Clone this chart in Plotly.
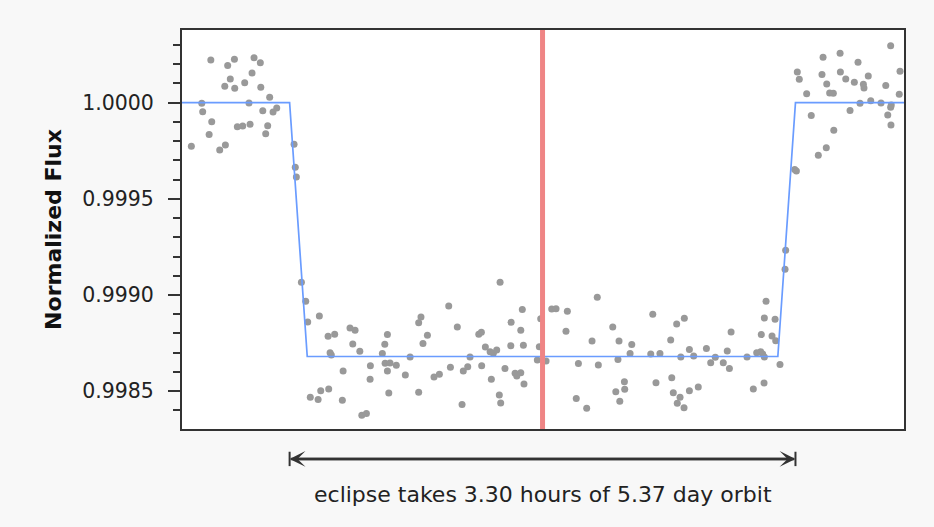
import plotly.graph_objects as go

# Phase-folded light curve around mid-eclipse (time in hours from mid-eclipse)
time_h = [
    -2.164, -2.054, -2.010, -1.882, -1.841, -1.895, -2.037, -2.073, -2.008, -1.943,
    -1.838, -1.780, -2.223, -1.915, -2.217, -1.825, -1.758, -1.734, -2.158, -1.991,
    -1.956, -1.908, -1.793, -1.806, -2.175, -2.291, -2.069, -2.106, -1.621, -1.613,
    -1.606, -1.573, -1.545, -1.532, -1.456, -1.399, -1.356, -1.386, -1.378, -1.256,
    -1.223, -1.238, -1.192, -1.301, -1.515, -1.464, -1.447, -1.395, -1.306, -1.179,
    -1.149, -1.123, -1.125, -1.045, -1.029, -1.012, -1.027, -0.995, -0.954, -1.012,
    -1.003, -0.895, -0.864, -0.808, -0.793, -0.751, -0.780, -0.808, -0.708, -0.673,
    -0.612, -0.556, -0.601, -0.473, -0.517, -0.488, -0.525, -0.416, -0.399, -0.373,
    -0.397, -0.342, -0.321, -0.299, -0.334, -0.277, -0.205, -0.132, -0.142, -0.207,
    -0.125, -0.245, -0.179, -0.168, -0.142, -0.121, -0.282, -0.273, -0.012, -0.021,
    -0.034, 0.023, 0.060, 0.088, 0.162, 0.153, 0.234, 0.220, 0.288, 0.357,
    0.323, 0.364, 0.458, 0.499, 0.492, 0.582, 0.571, 0.534, 0.478, 0.536,
    0.504, 0.719, 0.706, 0.766, 0.740, 0.836, 0.875, 0.925, 0.902, 0.958,
    0.986, 0.843, 0.853, 0.897, 0.879, 0.923, 0.958, 1.016, 1.069, 1.127,
    1.097, 1.179, 1.219, 1.205, 1.230, 1.334, 1.375, 1.445, 1.397, 1.423,
    1.436, 1.447, 1.427, 1.447, 1.458, 1.517, 1.497, 1.521, 1.549, 1.582,
    1.586, 2.271, 1.830, 1.941, 2.058, 1.662, 1.675, 1.823, 1.943, 1.978,
    1.854, 2.034, 2.093, 2.097, 2.125, 2.239, 2.332, 1.723, 1.873, 1.897,
    2.327, 2.071, 2.141, 2.208, 2.275, 2.271, 2.006, 1.753, 2.252, 2.273,
    1.900, 1.851, 1.799, 1.645, 1.656,
]

flux = [
    1.000222, 1.000194, 1.000226, 1.000234, 1.000208, 1.000154, 1.000123, 1.000085, 1.000075, 1.000104,
    1.000080, 1.000028, 0.999997, 0.999998, 0.999953, 0.999958, 0.999952, 0.999972, 0.999901, 0.999875,
    0.999879, 0.999888, 0.999880, 0.999839, 0.999834, 0.999773, 0.999780, 0.999754, 0.999784, 0.999664,
    0.999614, 0.999066, 0.998967, 0.998860, 0.998891, 0.998785, 0.998796, 0.998700, 0.998688, 0.998828,
    0.998816, 0.998745, 0.998707, 0.998605, 0.998468, 0.998456, 0.998502, 0.998511, 0.998452, 0.998374,
    0.998383, 0.998632, 0.998562, 0.998695, 0.998744, 0.998794, 0.998645, 0.998646, 0.998634, 0.998605,
    0.998490, 0.998584, 0.998678, 0.998856, 0.998886, 0.998790, 0.998747, 0.998494, 0.998574, 0.998588,
    0.998943, 0.998834, 0.998624, 0.998678, 0.998605, 0.998627, 0.998430, 0.998796, 0.998806, 0.998730,
    0.998632, 0.998705, 0.998697, 0.998714, 0.998562, 0.999066, 0.998858, 0.998924, 0.998816, 0.998736,
    0.998738, 0.998617, 0.998593, 0.998579, 0.998596, 0.998537, 0.998480, 0.998438, 0.998877, 0.998731,
    0.998662, 0.998657, 0.998927, 0.998929, 0.998915, 0.998811, 0.998643, 0.998461, 0.998411, 0.998988,
    0.998761, 0.998636, 0.998834, 0.998761, 0.998664, 0.998742, 0.998695, 0.998549, 0.998497, 0.998510,
    0.998447, 0.998900, 0.998693, 0.998695, 0.998544, 0.998766, 0.998849, 0.998879, 0.998678, 0.998716,
    0.998683, 0.998570, 0.998492, 0.998468, 0.998437, 0.998414, 0.998502, 0.998522, 0.998721, 0.998676,
    0.998648, 0.998648, 0.998617, 0.998709, 0.998808, 0.998678, 0.998511, 0.998542, 0.998700, 0.998705,
    0.998693, 0.998678, 0.998794, 0.998880, 0.998967, 0.998874, 0.998787, 0.998762, 0.998638, 0.999134,
    0.999232, 1.000296, 1.000236, 1.000257, 1.000210, 1.000160, 1.000122, 1.000146, 1.000160, 1.000123,
    1.000097, 1.000106, 1.000096, 1.000076, 1.000139, 1.000090, 1.000163, 1.000047, 1.000050, 1.000049,
    1.000044, 0.999997, 1.000010, 0.999998, 0.999988, 0.999976, 0.999960, 0.999934, 0.999936, 0.999884,
    0.999856, 0.999766, 0.999726, 0.999652, 0.999645,
]

# Trapezoidal eclipse model
model_t = [-2.352, -1.650, -1.535, 1.535, 1.650, 2.358]
model_flux = [1.0, 1.0, 0.99868, 0.99868, 1.0, 1.0]

eclipse_hours = 3.30
orbit_days = 5.37
mid_eclipse = 0.0
half_dur = eclipse_hours / 2

x_range = [-2.352, 2.358]
y_range = [0.998303, 1.000378]

FONT = "DejaVu Sans, Verdana, sans-serif"
AXIS_COLOR = "#333333"
TEXT_COLOR = "#222222"

fig = go.Figure()
fig.add_trace(go.Scatter(
    x=time_h, y=flux, mode="markers",
    marker=dict(size=7, color="#999999"),
    hoverinfo="skip", showlegend=False,
))
fig.add_trace(go.Scatter(
    x=model_t, y=model_flux, mode="lines",
    line=dict(color="#6a9cff", width=1.7),
    hoverinfo="skip", showlegend=False,
))

# Mid-eclipse marker
fig.add_shape(type="line", xref="x", yref="paper",
              x0=mid_eclipse, x1=mid_eclipse, y0=0, y1=1,
              line=dict(color="#ef8585", width=5), layer="above")

# Duration arrow below the plot: each arrow spans the full eclipse,
# one pointing to each end, with a bar at both contacts
arrow_y = -0.075
start, end = mid_eclipse - half_dur, mid_eclipse + half_dur
for head, tail in ((end, start), (start, end)):
    fig.add_annotation(
        x=head, y=arrow_y, xref="x", yref="paper",
        ax=tail, ay=0, axref="x", ayref="pixel",
        text="", showarrow=True, arrowhead=3, arrowsize=1.1,
        arrowwidth=2.4, arrowcolor=AXIS_COLOR,
    )
for pos in (start, end):
    fig.add_shape(type="line", xref="x", yref="paper",
                  x0=pos, x1=pos, y0=arrow_y + 0.018, y1=arrow_y - 0.018,
                  line=dict(color=AXIS_COLOR, width=2))

fig.add_annotation(
    x=0.5, y=-0.163, xref="paper", yref="paper",
    text=f"eclipse takes {eclipse_hours:.2f} hours of {orbit_days:.2f} day orbit",
    showarrow=False, font=dict(family=FONT, size=22, color=TEXT_COLOR),
    xanchor="center", yanchor="middle",
)

fig.update_xaxes(
    range=x_range, showticklabels=False, ticks="", showgrid=False, zeroline=False,
    showline=True, mirror=True, linecolor=AXIS_COLOR, linewidth=2,
)
fig.update_yaxes(
    range=y_range, tickmode="linear", tick0=0.9985, dtick=0.0005, tickformat=".4f",
    ticks="outside", ticklen=12, tickwidth=1.5, tickcolor=AXIS_COLOR,
    minor=dict(dtick=0.0001, tick0=0.9985, ticks="outside", ticklen=7,
               tickwidth=1.5, tickcolor=AXIS_COLOR, showgrid=False),
    showgrid=False, zeroline=False,
    showline=True, mirror=True, linecolor=AXIS_COLOR, linewidth=2,
    tickfont=dict(family=FONT, size=20.5, color=TEXT_COLOR),
    ticklabelstandoff=10,
    title=dict(text="<b>Normalized Flux</b>", font=dict(family=FONT, size=22, color="#111111"),
               standoff=14),
)

fig.update_layout(
    width=934, height=527,
    margin=dict(l=182, r=30, t=30, b=98),
    paper_bgcolor="#f8f8f8", plot_bgcolor="#ffffff",
    showlegend=False,
)

fig.write_html("out.html")
